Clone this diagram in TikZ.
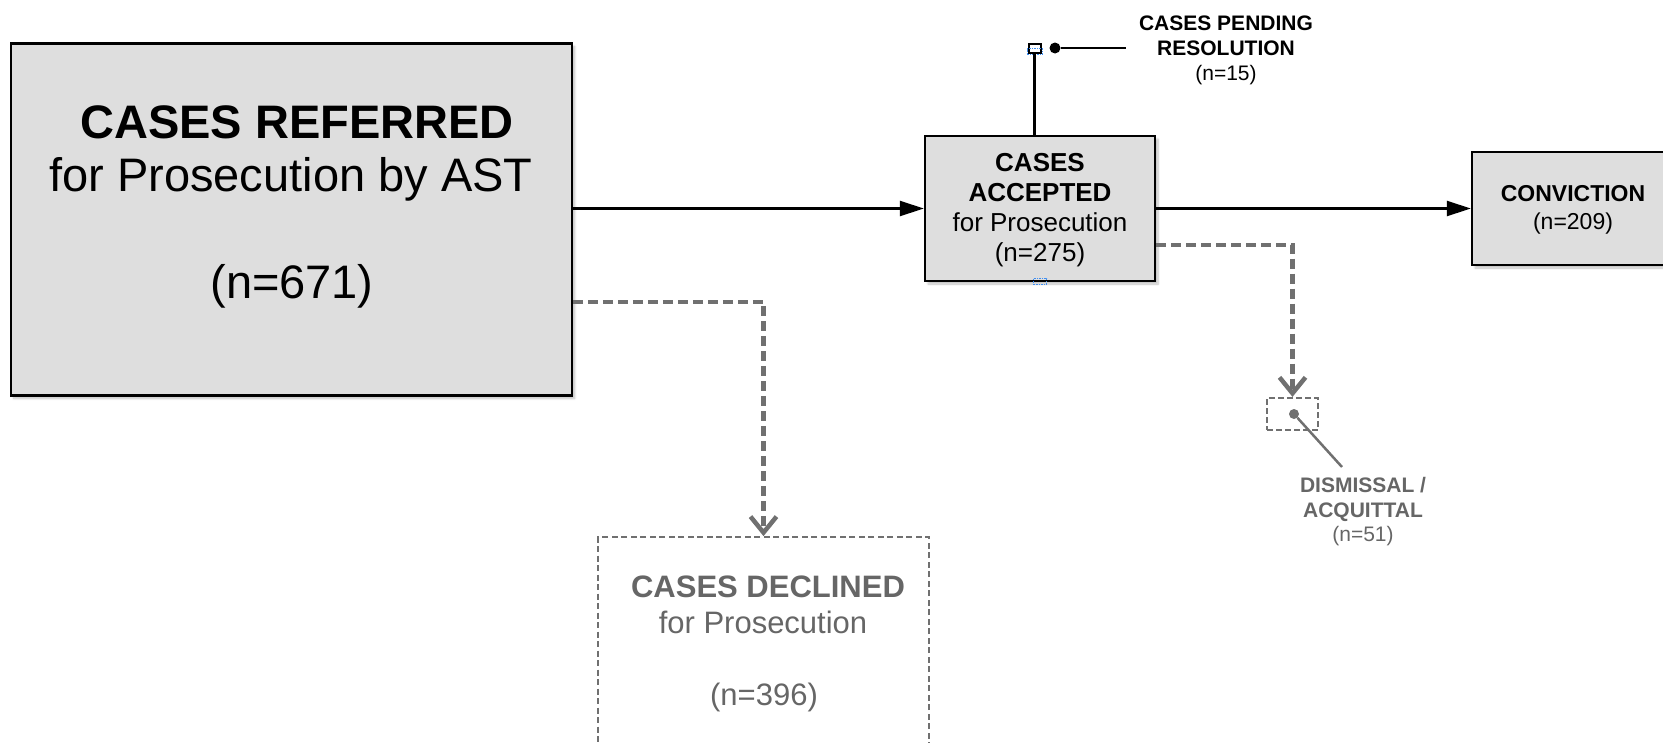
\documentclass[tikz,border=0pt]{standalone}
\usepackage{fontspec}
\setmainfont{Liberation Sans}
\usetikzlibrary{arrows.meta,shadows.blur}
\definecolor{boxfill}{HTML}{DEDEDE}
\definecolor{dgray}{HTML}{707070}
\definecolor{tgray}{HTML}{666666}
\definecolor{selblue}{HTML}{3F8EF0}
\begin{document}
\begin{tikzpicture}[x=1pt,y=-1pt,
  box/.style={draw=black, line width=2.4pt, fill=boxfill, inner sep=0pt,
    blur shadow={shadow xshift=3pt, shadow yshift=-3pt, shadow blur steps=6, shadow opacity=25}},
  txt/.style={inner sep=0pt, align=center},
  solidarr/.style={draw=black, line width=2.5pt, -{Triangle[length=24pt,width=15pt]}},
  dasharr/.style={draw=dgray, line width=4.5pt, dash pattern=on 10pt off 5pt, -{Straight Barb[length=16pt,width=26pt]}},
  thinline/.style={line width=2.5pt},
]
\path[use as bounding box] (0,0) rectangle (1663,742);
\clip (0,0) rectangle (1663,742);

% main boxes
\node[box, minimum width=561pt, minimum height=352pt] (ref) at (291.2,219.5) {};
\node[txt, font=\fontsize{47}{54}\selectfont\bfseries] (refT1) at (297,122) {CASES REFERRED};
\node[txt, font=\fontsize{47}{54}\selectfont] (refT2) at (291,179) {for Prosecution by AST};
\node[txt, font=\fontsize{47}{54}\selectfont] (refT3) at (292,286) {(n=671)};

\node[box, minimum width=230pt, minimum height=145pt] (acc) at (1040,208.5) {};
\node[txt, font=\fontsize{26}{30}\selectfont] (accT) at (1040,210.5)
  {\textbf{CASES}\\\textbf{ACCEPTED}\\for Prosecution\\(n=275)};

\node[box, minimum width=210pt, minimum height=113pt] (conv) at (1577,208.5) {};
\node[txt, font=\fontsize{23}{27.5}\selectfont] (convT) at (1573,210) {\textbf{CONVICTION}\\(n=209)};

% declined box
\node[draw=dgray, line width=1.7pt, dash pattern=on 6pt off 3.5pt, inner sep=0pt,
      minimum width=331pt, minimum height=260pt] (dec) at (763.5,667) {};
\node[txt, text=tgray, font=\fontsize{31}{36}\selectfont\bfseries] (decT1) at (768,587) {CASES DECLINED};
\node[txt, text=tgray, font=\fontsize{31}{36}\selectfont] (decT2) at (763,622) {for Prosecution};
\node[txt, text=tgray, font=\fontsize{31}{36}\selectfont] (decT3) at (764,697) {(n=396)};

% dismissal
\node[draw=dgray, line width=2.2pt, dash pattern=on 6pt off 3pt, inner sep=0pt,
      minimum width=51pt, minimum height=32pt] (dis) at (1292.5,414) {};
\node[circle, fill=dgray, inner sep=0pt, minimum size=10pt] (disdot) at (1294,414) {};
\coordinate (disend) at (1342,467);
\draw[dgray, thinline] (disdot) -- (disend);
\node[txt, text=tgray, font=\fontsize{21}{24.5}\selectfont] (disT) at (1363,512)
  {\textbf{DISMISSAL /}\\\textbf{ACQUITTAL}\\(n=51)};

% pending
\node[draw=black, fill=white, line width=2pt, inner sep=0pt, minimum width=12pt, minimum height=9pt] (pendsq) at (1034.5,48) {};
\node[draw=selblue, line width=0.7pt, dash pattern=on 1.5pt off 1pt, inner sep=0pt, minimum width=15pt, minimum height=6pt] (pendsel) at (1034.5,51.5) {};
\draw[line width=2.2pt] (pendsq.south) -- (pendsq.south |- acc.north);
\node[circle, fill=black, inner sep=0pt, minimum size=11pt] (penddot) at (1055,48) {};
\coordinate (pendend) at (1126,48);
\draw[thinline] (penddot) -- (pendend);
\node[txt, font=\fontsize{21}{25}\selectfont] (pendT) at (1226,50.5)
  {\textbf{CASES PENDING}\\\textbf{RESOLUTION}\\(n=15)};

% selection artefact under accepted box
\node[draw=selblue, line width=0.7pt, dash pattern=on 1.5pt off 1pt, inner sep=0pt, minimum width=13pt, minimum height=6pt] (accsel) at (1040,281) {};

% connectors
\draw[solidarr] (acc.west -| ref.east) -- (acc.west);
\draw[solidarr] (acc.east) -- (conv.west);
\draw[dasharr] ([yshift=-82.5pt]ref.east) -| (dec.north);
\draw[dasharr] ([yshift=-36.5pt]acc.east) -| (dis.north);
\end{tikzpicture}
\end{document}
